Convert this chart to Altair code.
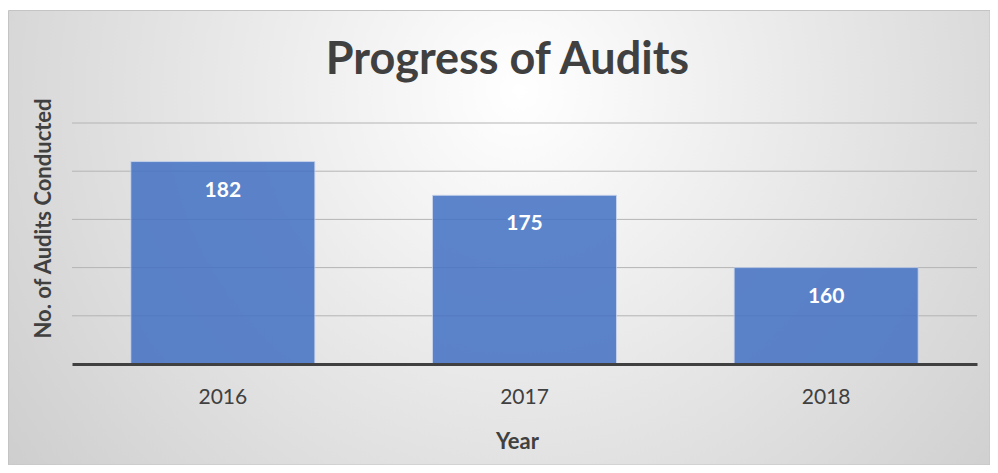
import altair as alt
import pandas as pd

years = ["2016", "2017", "2018"]
audits = [182, 175, 160]
grid_values = [150, 160, 170, 180, 190]

W, H = 905, 241
PAD_L, PAD_T, PAD_R, PAD_B = 64, 115, 13, 101

df = pd.DataFrame({"Year": years, "Audits": audits})
grid_df = pd.DataFrame({"Audits": grid_values})

FONT = "Lato"

ysc = alt.Scale(domain=[140, 190], nice=False, zero=False)
xsc = alt.Scale(paddingInner=0.39, paddingOuter=0.195)

yaxis = alt.Axis(
    title="No. of Audits Conducted",
    labels=False,
    ticks=False,
    domain=False,
    grid=False,
    titleFont=FONT,
    titleFontSize=22,
    titleFontWeight="bold",
    titleColor="#404040",
    titleX=-29,
    titleY=95,
    titleBaseline="middle",
    titleAngle=-90,
    zindex=2,
)

bg = alt.Chart(alt.Data(values=[{"a": 1}])).mark_rect(
    clip=False,
    stroke="#c4c4c4",
    strokeWidth=1,
    color={
        "gradient": "radial",
        "x1": 0.52, "y1": 0.35, "r1": 0,
        "x2": 0.52, "y2": 0.35, "r2": 0.75,
        "stops": [
            {"offset": 0, "color": "#ffffff"},
            {"offset": 1, "color": "#c6c6c6"},
        ],
    },
).encode(
    x=alt.value(-PAD_L + 0.5),
    x2=alt.value(W + PAD_R),
    y=alt.value(-(PAD_T - 2.5)),
    y2=alt.value(H + PAD_B),
)

grid = alt.Chart(grid_df).mark_rule(color="#b4b4b4", strokeWidth=1).encode(
    y=alt.Y("Audits:Q", scale=ysc, axis=yaxis),
    x=alt.value(0),
    x2=alt.value(W),
)

bars = alt.Chart(df).mark_bar(
    clip=True,
    color="#4472C4", opacity=0.86, stroke="#c9d6ee", strokeWidth=1, strokeOpacity=0.8
).encode(
    x=alt.X(
        "Year:N",
        sort=years,
        scale=xsc,
        axis=alt.Axis(
            title="Year",
            labelAngle=0,
            ticks=False,
            labelPadding=22,
            labelFontSize=21,
            labelColor="#404040",
            labelFont=FONT,
            domainColor="#404040",
            domainWidth=3,
            titleFont=FONT,
            titleFontSize=22,
            titleFontWeight="bold",
            titleColor="#404040",
            titleX=445,
            titleY=77,
            titleBaseline="middle",
            zindex=2,
        ),
    ),
    y=alt.Y("Audits:Q", scale=ysc, axis=yaxis),
)

labels = alt.Chart(df).mark_text(
    color="white", fontWeight="bold", fontSize=21, font=FONT, baseline="middle", dy=29
).encode(
    x=alt.X("Year:N", sort=years, scale=xsc),
    y=alt.Y("Audits:Q", scale=ysc),
    text="Audits:Q",
)

chart = alt.layer(bg, grid, bars, labels).properties(
    width=W,
    height=H,
    padding={"left": PAD_L, "top": PAD_T, "right": PAD_R, "bottom": PAD_B},
    autosize=alt.AutoSizeParams(type="none"),
    title=alt.TitleParams(
        "Progress of Audits",
        font=FONT,
        fontSize=45,
        fontWeight="bold",
        color="#404040",
        anchor="middle",
        baseline="alphabetic",
        offset=-109,
        dx=-17,
    ),
).configure_view(stroke=None).configure(background="white")

chart.save("out.html", embed_options={"renderer": "svg", "actions": False})
